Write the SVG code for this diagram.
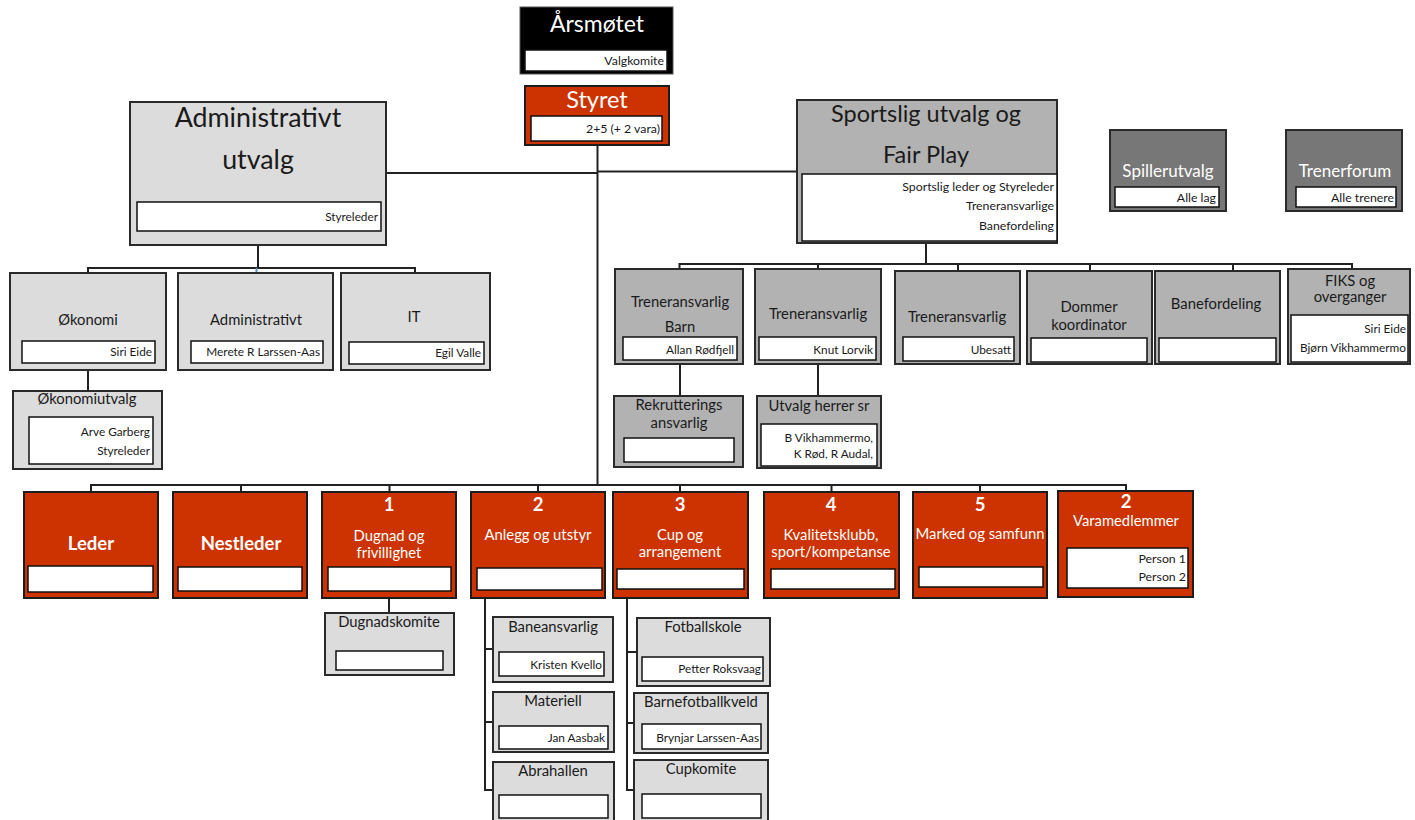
<svg xmlns="http://www.w3.org/2000/svg" width="1415" height="820" viewBox="0 0 1415 820">
<style>
text{font-family:Lato,'Liberation Sans',sans-serif}
.red{fill:#cc3300;stroke:#1c1c1c;stroke-width:2}
.lg{fill:#dcdcdc;stroke:#2a2a2a;stroke-width:2}
.mg{fill:#b2b2b2;stroke:#2a2a2a;stroke-width:2}
.dg{fill:#777777;stroke:#2a2a2a;stroke-width:2}
.blk{fill:#000000;stroke:#555;stroke-width:1}
.in{fill:#ffffff;stroke:#111111;stroke-width:1.5}
.c{fill:none;stroke:#222222;stroke-width:2}
.t{text-anchor:middle;fill:#1a1a1a;font-size:14.8px}
.tw{text-anchor:middle;fill:#ffffff;font-size:14.8px}
.s{text-anchor:end;fill:#1a1a1a;font-size:11.8px}
.s2{font-size:12.3px}
.n{font-weight:bold;font-size:18.5px}
.big{font-size:26.8px}
.sp{font-size:23.5px}
.dk{font-size:17px}
</style>

<g id="connectors">
  <path class="c" d="M597.5 145 V485"/>
  <path class="c" d="M386 173 H597.5"/>
  <path class="c" d="M597.5 171.5 H797"/>
  <path class="c" d="M258 245 V268 M88 273 V268 H415 V273"/>
  <path d="M256.5 268 V273" stroke="#5b8fc7" stroke-width="2"/>
  <path class="c" d="M88 370 V391"/>
  <path class="c" d="M926 243 V264 M679.5 269 V264 H1352 V269 M818 264 V269 M958 264 V271 M1090 264 V271 M1233 264 V271"/>
  <path class="c" d="M680 364 V396 M818 364 V396"/>
  <path class="c" d="M91 492 V485 H1126 V491 M241 485 V492 M389.5 485 V492 M538 485 V492 M680 485 V492 M831.5 485 V492 M980 485 V492"/>
  <path class="c" d="M389 598 V613"/>
  <path class="c" d="M485 598 V790 H493 M485 649 H493 M485 722 H493"/>
  <path class="c" d="M627 598 V790 H634 M627 652 H637 M627 723 H634"/>
</g>

<g id="arsmotet">
  <rect class="blk" x="520" y="7" width="153" height="67"/>
  <rect class="in" x="525" y="50" width="142" height="21"/>
  <text class="tw" x="597" y="32" style="font-size:23px">Årsmøtet</text>
  <text class="s s2" x="664" y="65">Valgkomite</text>
</g>

<g id="styret">
  <rect class="red" x="525" y="86" width="144" height="59" stroke-width="2.5"/>
  <rect class="in" x="531" y="116" width="131" height="25"/>
  <text class="tw" x="597" y="108" style="font-size:23.5px">Styret</text>
  <text class="s s2" x="660" y="133">2+5 (+ 2 vara)</text>
</g>

<g id="administrativt-utvalg">
  <rect class="lg" x="130" y="102" width="256" height="143"/>
  <rect class="in" x="137" y="202" width="244" height="29"/>
  <text class="t big" x="258" y="127">Administrativt</text>
  <text class="t big" x="258" y="169">utvalg</text>
  <text class="s" x="378" y="221">Styreleder</text>
</g>

<g id="sportslig-utvalg">
  <rect class="mg" x="797" y="100" width="260" height="143"/>
  <rect class="in" x="802" y="174" width="255" height="67"/>
  <text class="t sp" x="926" y="122">Sportslig utvalg og</text>
  <text class="t sp" x="926" y="163">Fair Play</text>
  <text class="s s2" x="1054" y="191">Sportslig leder og Styreleder</text>
  <text class="s s2" x="1054" y="210">Treneransvarlige</text>
  <text class="s s2" x="1054" y="230">Banefordeling</text>
</g>

<g id="spillerutvalg">
  <rect class="dg" x="1110" y="130" width="116" height="81"/>
  <rect class="in" x="1115" y="187" width="104" height="20"/>
  <text class="tw dk" x="1168" y="177">Spillerutvalg</text>
  <text class="s s2" x="1216" y="202">Alle lag</text>
</g>

<g id="trenerforum">
  <rect class="dg" x="1286" y="130" width="116" height="81"/>
  <rect class="in" x="1296" y="187" width="100" height="20"/>
  <text class="tw dk" x="1345" y="177">Trenerforum</text>
  <text class="s s2" x="1394" y="202">Alle trenere</text>
</g>

<g id="okonomi">
  <rect class="lg" x="10" y="273" width="156" height="97"/>
  <rect class="in" x="22" y="341" width="133" height="22"/>
  <text class="t" x="88" y="325">Økonomi</text>
  <text class="s" x="152" y="356">Siri Eide</text>
</g>

<g id="administrativt">
  <rect class="lg" x="178" y="273" width="155" height="97"/>
  <rect class="in" x="191" y="341" width="132" height="22"/>
  <text class="t" x="256" y="325">Administrativt</text>
  <text class="s" x="320" y="356">Merete R Larssen-Aas</text>
</g>

<g id="it">
  <rect class="lg" x="341" y="273" width="149" height="97"/>
  <rect class="in" x="349" y="342" width="135" height="22"/>
  <text class="t" x="414" y="322">IT</text>
  <text class="s" x="481" y="357">Egil Valle</text>
</g>

<g id="okonomiutvalg">
  <rect class="lg" x="13" y="391" width="149" height="78"/>
  <rect class="in" x="29" y="417" width="124" height="47"/>
  <text class="t" x="87" y="404">Økonomiutvalg</text>
  <text class="s" x="150" y="436">Arve Garberg</text>
  <text class="s" x="150" y="455">Styreleder</text>
</g>

<g id="treneransvarlig-barn">
  <rect class="mg" x="615" y="269" width="128" height="95"/>
  <rect class="in" x="623" y="337" width="114" height="23"/>
  <text class="t" x="680" y="307">Treneransvarlig</text>
  <text class="t" x="680" y="332">Barn</text>
  <text class="s" x="734" y="354">Allan Rødfjell</text>
</g>

<g id="treneransvarlig-knut">
  <rect class="mg" x="755" y="269" width="126" height="95"/>
  <rect class="in" x="759" y="337" width="117" height="23"/>
  <text class="t" x="818" y="319">Treneransvarlig</text>
  <text class="s" x="873" y="354">Knut Lorvik</text>
</g>

<g id="treneransvarlig-ubesatt">
  <rect class="mg" x="895" y="271" width="125" height="93"/>
  <rect class="in" x="903" y="337" width="111" height="24"/>
  <text class="t" x="957" y="322">Treneransvarlig</text>
  <text class="s" x="1011" y="354">Ubesatt</text>
</g>

<g id="dommer-koordinator">
  <rect class="mg" x="1027" y="271" width="125" height="93"/>
  <rect class="in" x="1031" y="338" width="116" height="24"/>
  <text class="t" x="1089" y="312">Dommer</text>
  <text class="t" x="1089" y="330">koordinator</text>
</g>

<g id="banefordeling">
  <rect class="mg" x="1155" y="271" width="125" height="93"/>
  <rect class="in" x="1159" y="338" width="117" height="24"/>
  <text class="t" x="1216" y="309">Banefordeling</text>
</g>

<g id="fiks">
  <rect class="mg" x="1288" y="269" width="122" height="95"/>
  <rect class="in" x="1291" y="315" width="117" height="47"/>
  <text class="t" x="1350" y="286">FIKS og</text>
  <text class="t" x="1350" y="302">overganger</text>
  <text class="s" x="1406" y="333">Siri Eide</text>
  <text class="s" x="1406" y="352">Bjørn Vikhammermo</text>
</g>

<g id="rekrutterings">
  <rect class="mg" x="614" y="396" width="129" height="71"/>
  <rect class="in" x="624" y="438" width="110" height="24"/>
  <text class="t" x="679" y="410">Rekrutterings</text>
  <text class="t" x="679" y="428">ansvarlig</text>
</g>

<g id="utvalg-herrer">
  <rect class="mg" x="757" y="396" width="124" height="72"/>
  <rect class="in" x="761" y="424" width="116" height="42"/>
  <text class="t" x="819" y="411">Utvalg herrer sr</text>
  <text class="s" x="873" y="442">B Vikhammermo,</text>
  <text class="s" x="873" y="458">K Rød, R Audal,</text>
</g>

<g id="leder">
  <rect class="red" x="24" y="492" width="134" height="106"/>
  <rect class="in" x="28" y="566" width="125" height="26"/>
  <text class="tw n" x="91" y="550">Leder</text>
</g>

<g id="nestleder">
  <rect class="red" x="173" y="492" width="134" height="106"/>
  <rect class="in" x="178" y="567" width="124" height="24"/>
  <text class="tw n" x="241" y="550">Nestleder</text>
</g>

<g id="dugnad">
  <rect class="red" x="322" y="492" width="134" height="106"/>
  <rect class="in" x="328" y="567" width="123" height="24"/>
  <text class="tw n" x="389" y="511">1</text>
  <text class="tw" x="389" y="541">Dugnad og</text>
  <text class="tw" x="389" y="558">frivillighet</text>
</g>

<g id="anlegg">
  <rect class="red" x="471" y="492" width="134" height="106"/>
  <rect class="in" x="477" y="568" width="125" height="22"/>
  <text class="tw n" x="538" y="511">2</text>
  <text class="tw" x="538" y="540">Anlegg og utstyr</text>
</g>

<g id="cup">
  <rect class="red" x="613" y="492" width="135" height="106"/>
  <rect class="in" x="617" y="569" width="127" height="20"/>
  <text class="tw n" x="680" y="511">3</text>
  <text class="tw" x="680" y="540">Cup og</text>
  <text class="tw" x="680" y="557">arrangement</text>
</g>

<g id="kvalitetsklubb">
  <rect class="red" x="764" y="492" width="135" height="106"/>
  <rect class="in" x="771" y="569" width="124" height="20"/>
  <text class="tw n" x="831" y="511">4</text>
  <text class="tw" x="831" y="540">Kvalitetsklubb,</text>
  <text class="tw" x="831" y="557">sport/kompetanse</text>
</g>

<g id="marked">
  <rect class="red" x="913" y="492" width="134" height="106"/>
  <rect class="in" x="919" y="567" width="124" height="20"/>
  <text class="tw n" x="980" y="511">5</text>
  <text class="tw" x="980" y="539">Marked og samfunn</text>
</g>

<g id="varamedlemmer">
  <rect class="red" x="1058" y="491" width="135" height="106"/>
  <rect class="in" x="1067" y="548" width="121" height="40"/>
  <text class="tw n" x="1126" y="508">2</text>
  <text class="tw" x="1126" y="526">Varamedlemmer</text>
  <text class="s s2" x="1186" y="563">Person 1</text>
  <text class="s s2" x="1186" y="581">Person 2</text>
</g>

<g id="dugnadskomite">
  <rect class="lg" x="325" y="613" width="129" height="62"/>
  <rect class="in" x="336" y="651" width="107" height="19"/>
  <text class="t" x="389" y="627">Dugnadskomite</text>
</g>

<g id="baneansvarlig">
  <rect class="lg" x="493" y="617" width="120" height="65"/>
  <rect class="in" x="499" y="652" width="105" height="24"/>
  <text class="t" x="553" y="632">Baneansvarlig</text>
  <text class="s" x="602" y="669">Kristen Kvello</text>
</g>

<g id="materiell">
  <rect class="lg" x="493" y="692" width="121" height="60"/>
  <rect class="in" x="499" y="726" width="109" height="23"/>
  <text class="t" x="553" y="706">Materiell</text>
  <text class="s" x="605" y="742">Jan Aasbak</text>
</g>

<g id="abrahallen">
  <rect class="lg" x="493" y="762" width="121" height="70"/>
  <rect class="in" x="499" y="795" width="109" height="23"/>
  <text class="t" x="553" y="776">Abrahallen</text>
</g>

<g id="fotballskole">
  <rect class="lg" x="637" y="618" width="133" height="68"/>
  <rect class="in" x="642" y="657" width="121" height="24"/>
  <text class="t" x="703" y="632">Fotballskole</text>
  <text class="s" x="761" y="673">Petter Roksvaag</text>
</g>

<g id="barnefotballkveld">
  <rect class="lg" x="634" y="693" width="134" height="60"/>
  <rect class="in" x="642" y="724" width="119" height="25"/>
  <text class="t" x="701" y="707">Barnefotballkveld</text>
  <text class="s" x="759" y="742">Brynjar Larssen-Aas</text>
</g>

<g id="cupkomite">
  <rect class="lg" x="634" y="760" width="134" height="72"/>
  <rect class="in" x="642" y="794" width="119" height="24"/>
  <text class="t" x="701" y="774">Cupkomite</text>
</g>
</svg>
